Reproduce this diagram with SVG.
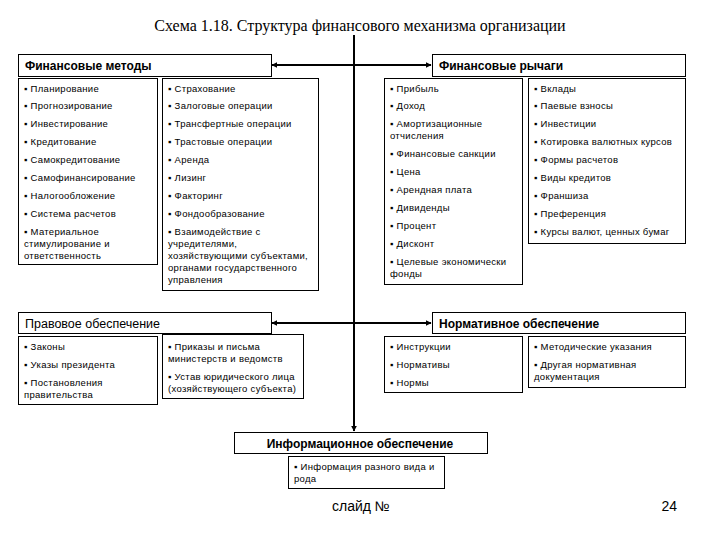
<svg xmlns="http://www.w3.org/2000/svg" width="720" height="540" viewBox="0 0 720 540">
<style>
.box{fill:#fff;stroke:#000;stroke-width:1}
.t{font-family:"Liberation Sans",Arial,sans-serif;font-size:9.5px;letter-spacing:0.3px;fill:#000}
.h{font-family:"Liberation Sans",Arial,sans-serif;font-size:12px;font-weight:bold;fill:#000}
.hn{font-family:"Liberation Sans",Arial,sans-serif;font-size:12.5px;fill:#000}
.title{font-family:"Liberation Serif","Times New Roman",serif;font-size:16px;fill:#000}
.foot{font-family:"Liberation Sans",Arial,sans-serif;font-size:14px;fill:#000}
.con{stroke:#000;stroke-width:2;fill:none}
</style>
<defs>
<marker id="arr" viewBox="0 0 10 10" refX="9" refY="5" markerWidth="3" markerHeight="3" orient="auto" markerUnits="strokeWidth">
<path d="M0,0 L10,5 L0,10 Z" fill="#000"/>
</marker>
</defs>
<rect width="720" height="540" fill="#fff"/>
<text class="title" x="360" y="31" text-anchor="middle">Схема 1.18. Структура финансового механизма организации</text>

<g id="connectors">
<path class="con" d="M354,35 V431" marker-end="url(#arr)"/>
<path class="con" d="M354,65 H272" marker-end="url(#arr)"/>
<path class="con" d="M354,65 H431" marker-end="url(#arr)"/>
<path class="con" d="M354,323 H272" marker-end="url(#arr)"/>
<path class="con" d="M354,323 H431" marker-end="url(#arr)"/>
</g>

<g id="fin-methods">
<rect class="box" x="18.5" y="54.5" width="253" height="22"/>
<text class="h" x="25" y="69.5">Финансовые методы</text>
</g>
<g id="fin-methods-1">
<rect class="box" x="18.5" y="78.5" width="139" height="186"/>
<text class="t" x="24" y="92">▪ Планирование</text>
<text class="t" x="24" y="109">▪ Прогнозирование</text>
<text class="t" x="24" y="127">▪ Инвестирование</text>
<text class="t" x="24" y="145">▪ Кредитование</text>
<text class="t" x="24" y="163">▪ Самокредитование</text>
<text class="t" x="24" y="181">▪ Самофинансирование</text>
<text class="t" x="24" y="199">▪ Налогообложение</text>
<text class="t" x="24" y="217">▪ Система расчетов</text>
<text class="t" x="24" y="235">▪ Материальное</text>
<text class="t" x="24" y="247">стимулирование и</text>
<text class="t" x="24" y="259">ответственность</text>
</g>
<g id="fin-methods-2">
<rect class="box" x="162.5" y="78.5" width="156" height="212"/>
<text class="t" x="168" y="92">▪ Страхование</text>
<text class="t" x="168" y="109">▪ Залоговые операции</text>
<text class="t" x="168" y="127">▪ Трансфертные операции</text>
<text class="t" x="168" y="145">▪ Трастовые операции</text>
<text class="t" x="168" y="163">▪ Аренда</text>
<text class="t" x="168" y="181">▪ Лизинг</text>
<text class="t" x="168" y="199">▪ Факторинг</text>
<text class="t" x="168" y="217">▪ Фондообразование</text>
<text class="t" x="168" y="235">▪ Взаимодействие с</text>
<text class="t" x="168" y="247">учредителями,</text>
<text class="t" x="168" y="259">хозяйствующими субъектами,</text>
<text class="t" x="168" y="271">органами государственного</text>
<text class="t" x="168" y="283">управления</text>
</g>

<g id="fin-levers">
<rect class="box" x="432.5" y="54.5" width="253" height="22"/>
<text class="h" x="439" y="69.5">Финансовые рычаги</text>
</g>
<g id="fin-levers-1">
<rect class="box" x="384.5" y="78.5" width="138" height="206"/>
<text class="t" x="390" y="92">▪ Прибыль</text>
<text class="t" x="390" y="109">▪ Доход</text>
<text class="t" x="390" y="127">▪ Амортизационные</text>
<text class="t" x="390" y="139">отчисления</text>
<text class="t" x="390" y="157">▪ Финансовые санкции</text>
<text class="t" x="390" y="175">▪ Цена</text>
<text class="t" x="390" y="193">▪ Арендная плата</text>
<text class="t" x="390" y="211">▪ Дивиденды</text>
<text class="t" x="390" y="229">▪ Процент</text>
<text class="t" x="390" y="247">▪ Дисконт</text>
<text class="t" x="390" y="265">▪ Целевые экономически</text>
<text class="t" x="390" y="277">фонды</text>
</g>
<g id="fin-levers-2">
<rect class="box" x="528.5" y="78.5" width="157" height="165"/>
<text class="t" x="534" y="92">▪ Вклады</text>
<text class="t" x="534" y="109">▪ Паевые взносы</text>
<text class="t" x="534" y="127">▪ Инвестиции</text>
<text class="t" x="534" y="145">▪ Котировка валютных курсов</text>
<text class="t" x="534" y="163">▪ Формы расчетов</text>
<text class="t" x="534" y="181">▪ Виды кредитов</text>
<text class="t" x="534" y="199">▪ Франшиза</text>
<text class="t" x="534" y="217">▪ Преференция</text>
<text class="t" x="534" y="235">▪ Курсы валют, ценных бумаг</text>
</g>

<g id="legal">
<rect class="box" x="18.5" y="312.5" width="253" height="21"/>
<text class="hn" x="25" y="327.5">Правовое обеспечение</text>
</g>
<g id="legal-1">
<rect class="box" x="18.5" y="336.5" width="139" height="68"/>
<text class="t" x="24" y="350">▪ Законы</text>
<text class="t" x="24" y="368">▪ Указы президента</text>
<text class="t" x="24" y="386">▪ Постановления</text>
<text class="t" x="24" y="398">правительства</text>
</g>
<g id="legal-2">
<rect class="box" x="162.5" y="334.5" width="141" height="64"/>
<text class="t" x="168" y="350">▪ Приказы и письма</text>
<text class="t" x="168" y="362">министерств и ведомств</text>
<text class="t" x="168" y="380">▪ Устав юридического лица</text>
<text class="t" x="168" y="392">(хозяйствующего субъекта)</text>
</g>

<g id="normative">
<rect class="box" x="432.5" y="312.5" width="253" height="21"/>
<text class="h" x="439" y="327.5">Нормативное обеспечение</text>
</g>
<g id="normative-1">
<rect class="box" x="384.5" y="336.5" width="138" height="56"/>
<text class="t" x="390" y="350">▪ Инструкции</text>
<text class="t" x="390" y="368">▪ Нормативы</text>
<text class="t" x="390" y="386">▪ Нормы</text>
</g>
<g id="normative-2">
<rect class="box" x="528.5" y="336.5" width="157" height="51"/>
<text class="t" x="534" y="350">▪ Методические указания</text>
<text class="t" x="534" y="368">▪ Другая нормативная</text>
<text class="t" x="534" y="380">документация</text>
</g>

<g id="info">
<rect class="box" x="234.5" y="432.5" width="253" height="21"/>
<text class="h" x="360" y="447.5" text-anchor="middle">Информационное обеспечение</text>
</g>
<g id="info-1">
<rect class="box" x="288.5" y="456.5" width="156" height="32"/>
<text class="t" x="294" y="470">▪ Информация разного вида и</text>
<text class="t" x="294" y="482">рода</text>
</g>

<text class="foot" x="332" y="511">слайд №</text>
<text class="foot" x="677" y="511" text-anchor="end">24</text>
</svg>
